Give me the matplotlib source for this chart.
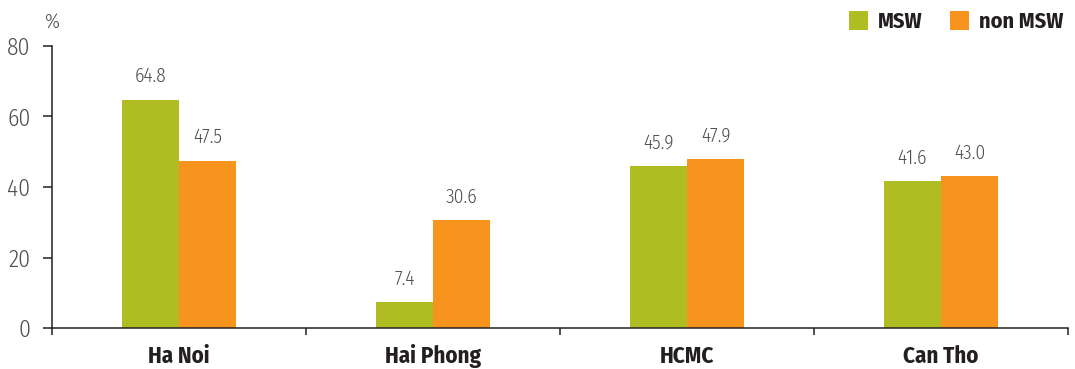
import matplotlib
matplotlib.use("Agg")
import matplotlib.pyplot as plt
from matplotlib.patches import Rectangle
import numpy as np

cities = ["Ha Noi", "Hai Phong", "HCMC", "Can Tho"]
msw = [64.8, 7.4, 45.9, 41.6]
non_msw = [47.5, 30.6, 47.9, 43.0]
series_names = ["MSW", "non MSW"]
yticks = [0, 20, 40, 60, 80]

GREEN = "#afbc22"
ORANGE = "#f7941e"
TEXT = "#231f20"
LABEL = "#4d4d4f"

FAMILY = ["Fira Sans Condensed", "DejaVu Sans"]
plt.rcParams["font.family"] = FAMILY

W, H = 1075, 369
fig = plt.figure(figsize=(W / 100, H / 100), dpi=100)
ax = fig.add_axes([52 / W, 41 / H, 1016 / W, 282 / H])

x = np.arange(len(cities))
w = 0.225
b1 = ax.bar(x - w / 2, msw, width=w, color=GREEN, linewidth=0)
b2 = ax.bar(x + w / 2, non_msw, width=w, color=ORANGE, linewidth=0)

for bars, vals in ((b1, msw), (b2, non_msw)):
    for rect, v in zip(bars, vals):
        ax.annotate(f"{v:.1f}", (rect.get_x() + rect.get_width() / 2, v),
                    xytext=(0, 12.5), textcoords="offset points",
                    ha="center", va="baseline", fontsize=14, fontweight=300,
                    color=LABEL)

ax.set_xlim(-0.5, len(cities) - 0.5)
ax.set_ylim(0, 80)
ax.set_yticks(yticks)
ax.set_yticklabels([str(t) for t in yticks], fontsize=17, fontweight=300, color=LABEL)
ax.tick_params(axis="y", direction="out", length=6.5, width=1.1, color=TEXT, pad=9)

# group boundaries carry the ticks, names sit under each group
ax.set_xticks(np.arange(-0.5, len(cities), 1.0))
ax.set_xticklabels([])
ax.tick_params(axis="x", direction="out", length=5, width=1.1, color=TEXT)
for xi, name in zip(x, cities):
    ax.annotate(name, (xi, 0), xytext=(0, -25), textcoords="offset points",
                ha="center", va="baseline", fontsize=16.5, fontweight="bold",
                color=TEXT, annotation_clip=False)

for s in ("top", "right"):
    ax.spines[s].set_visible(False)
for s in ("left", "bottom"):
    ax.spines[s].set_linewidth(1.1)
    ax.spines[s].set_color(TEXT)

fig.text(52 / W, 1 - 28 / H, "%", ha="center", va="baseline",
         fontsize=15, fontweight=300, color=LABEL)

# legend row in the top-right corner
legend_items = [(849, GREEN, series_names[0]), (950, ORANGE, series_names[1])]
for x0, col, label in legend_items:
    fig.add_artist(Rectangle((x0 / W, 1 - 30 / H), 19 / W, 19 / H,
                             transform=fig.transFigure, facecolor=col,
                             edgecolor="none"))
    fig.text((x0 + 29) / W, 1 - 28.3 / H, label, ha="left", va="baseline",
             fontsize=16, fontweight="bold", color=TEXT)

fig.savefig("out.png", dpi=100)
